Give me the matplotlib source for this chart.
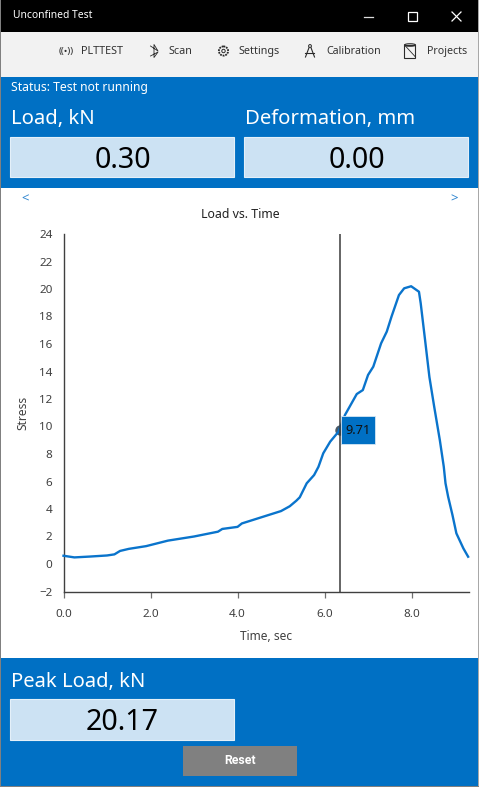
import matplotlib
matplotlib.use("Agg")
import matplotlib.pyplot as plt
from matplotlib.patches import Rectangle, Circle, Ellipse

plt.rcParams['font.family'] = ['Noto Sans', 'DejaVu Sans']

time_s = [0.0, 0.25, 0.6, 1.0, 1.17, 1.3, 1.5, 1.9, 2.4, 3.0, 3.55, 3.65, 4.0, 4.1, 4.6, 5.0, 5.2, 5.35,
          5.43, 5.59, 5.76, 5.86, 5.97, 6.13, 6.32, 6.47, 6.74, 6.88, 7.0, 7.12, 7.3, 7.43, 7.54, 7.71,
          7.83, 7.99, 8.17, 8.21, 8.31, 8.41, 8.52, 8.65, 8.74, 8.78, 8.84, 8.94, 9.03, 9.19, 9.3]
stress = [0.6, 0.48, 0.54, 0.62, 0.7, 0.95, 1.1, 1.3, 1.7, 2.0, 2.35, 2.55, 2.7, 2.95, 3.45, 3.85, 4.2, 4.6,
          4.85, 5.87, 6.47, 7.07, 8.05, 8.9, 9.62, 10.84, 12.36, 12.65, 13.75, 14.35, 16.05, 16.9, 18.0, 19.56,
          20.05, 20.2, 19.8, 18.96, 16.3, 13.6, 11.44, 9.0, 7.08, 5.87, 4.9, 3.56, 2.23, 1.14, 0.53]
x_ticks = [0, 2, 4, 6, 8]
y_ticks = list(range(-2, 26, 2))
cursor_t = 6.36
cursor_v = 9.71

W, H = 479, 787
BLUE = '#0070C4'
LIGHT = '#CCE2F3'
DARK = '#404040'

fig = plt.figure(figsize=(W / 100, H / 100), dpi=100, facecolor='white')

ui = fig.add_axes([0, 0, 1, 1], zorder=0)
ui.set_xlim(0, W); ui.set_ylim(H, 0); ui.axis('off')

def rect(x0, y0, x1, y1, color, **kw):
    ui.add_patch(Rectangle((x0, y0), x1 - x0, y1 - y0, facecolor=color, edgecolor=kw.pop('ec', 'none'),
                           lw=kw.pop('lw', 0), **kw))

rect(0, 0, W, 32, 'black')
rect(0, 32, W, 77, '#F2F2F2')
rect(0, 77, W, 188, BLUE)
rect(0, 658, W, 787, BLUE)
for box in [(10.5, 137, 234.5, 177), (244.5, 137, 468.5, 177), (10.5, 699, 234.5, 740)]:
    rect(box[0], box[1], box[2], box[3], LIGHT, ec='#E4F0F9', lw=0.8)
rect(183, 746, 297, 776, '#808080')
rect(0, 0, 1.2, H, '#808080', zorder=6)
rect(W - 1.2, 0, W, H, '#A8A8A8', zorder=6)
rect(0, H - 1, W, H, '#808080', zorder=6)

def label(x, y, s, size, color='black', ha='left', **kw):
    ui.text(x, y, s, fontsize=size, color=color, ha=ha, va='center', **kw)

label(13, 16, 'Unconfined Test', 7.4, 'white')
ui.plot([364, 373], [16.5, 16.5], color='#DDDDDD', lw=0.9)
ui.add_patch(Rectangle((408.5, 12), 8.5, 8.5, fill=False, ec='white', lw=0.9))
ui.plot([452, 461], [12, 21], color='white', lw=0.9)
ui.plot([452, 461], [21, 12], color='white', lw=0.9)

TB = '#2B2B2B'
TY = 51.5
label(81, TY, 'PLTTEST', 7.8, '#333333')
label(169, TY, 'Scan', 7.8, '#333333')
label(239, TY, 'Settings', 7.8, '#333333')
label(326, TY, 'Calibration', 7.7, '#333333')
label(427, TY, 'Projects', 7.7, '#333333')
# toolbar icons
label(66, TY, '((•))', 7, TB, ha='center')
ui.plot([150.5, 158, 154, 154, 158, 150.5], [46, 51, 44.5, 57.5, 52, 56], color=TB, lw=0.6)
ui.add_patch(Circle((223.5, 51), 4.6, fill=False, ec=TB, lw=1.3, ls=(0, (1, 0.5))))
ui.add_patch(Circle((223.5, 51), 1.7, fill=False, ec=TB, lw=0.7))
ui.plot([305.5, 310, 314.5], [57, 45, 57], color=TB, lw=0.8)
ui.plot([305.5, 314.5], [53, 53], color=TB, lw=0.8)
ui.add_patch(Circle((310, 46), 1.4, fc='#F2F2F2', ec=TB, lw=0.7, zorder=3))
ui.add_patch(Rectangle((404.5, 44.5), 11, 13, fill=False, ec=TB, lw=0.8))
ui.add_patch(Ellipse((410, 45), 11, 2.5, fill=False, ec=TB, lw=0.8))
ui.plot([404.5, 415.5], [45, 57], color=TB, lw=0.6)

label(11, 87.5, 'Status: Test not running', 8.75, 'white')
label(11, 119, 'Load, kN', 14.6, 'white')
label(245, 119, 'Deformation, mm', 14.6, 'white')
label(123, 160.5, '0.30', 20.6, 'black', ha='center')
label(357, 160.5, '0.00', 20.6, 'black', ha='center')
label(11, 682, 'Peak Load, kN', 14.5, 'white')
label(122, 722.5, '20.17', 20.6, 'black', ha='center')
ui.text(240, 761, 'Reset', fontsize=8.8, color='white', ha='center', va='center', family='Roboto', fontweight='bold')
label(25, 198.5, '<', 9.5, '#2F86D0', ha='center')
label(454, 198.5, '>', 9.5, '#2F86D0', ha='center')
label(240, 214, 'Load vs. Time', 8.9, '#222222', ha='center')

# plot area: pixel extents -> figure fractions
px0, px1, py_top, py_bot = 63.5, 469, 234, 591.5
ax = fig.add_axes([px0 / W, 1 - py_bot / H, (px1 - px0) / W, (py_bot - py_top) / H], zorder=1)
ax.patch.set_alpha(0)
xmax, ymin, ymax = 9.32, -2, 24
ax.set_xlim(0, xmax)
ax.set_ylim(ymin, ymax)
xu = (px1 - px0) / xmax      # pixels per x unit
yu = (py_bot - py_top) / (ymax - ymin)  # pixels per y unit
ax.plot(time_s, stress, color='#0A74CC', lw=1.7, solid_joinstyle='round', zorder=3, clip_on=False)
ax.axvline(cursor_t, color='#3A3A3A', lw=1.1, zorder=4)
ax.plot([cursor_t], [cursor_v], 'o', color='#4A5A68', ms=6.5, zorder=2)
ax.add_patch(Rectangle((cursor_t + 1 / xu, cursor_v - 14 / yu), 34 / xu, 28 / yu,
                       fc=BLUE, ec='#D5E6F4', lw=0.6, zorder=5))
ax.text(cursor_t + 18 / xu, cursor_v, f'{cursor_v:.2f}', fontsize=9.2, color='#111111', va='center', ha='center',
        zorder=6)
ax.set_xticks(x_ticks)
ax.set_xticklabels([f'{t:.1f}' for t in x_ticks])
ax.set_yticks(y_ticks)
for s in ['top', 'right']:
    ax.spines[s].set_visible(False)
for s in ['left', 'bottom']:
    ax.spines[s].set_color(DARK)
    ax.spines[s].set_linewidth(1.0)
ax.tick_params(axis='x', length=4.5, width=0.9, color='#707070', labelsize=8.4, labelcolor=DARK, pad=8)
ax.tick_params(axis='y', length=0, labelsize=8.4, labelcolor=DARK, pad=8)
ax.set_xlabel('Time, sec', fontsize=8.6, color=DARK, labelpad=7)
ax.set_ylabel('Stress', fontsize=8.6, color=DARK, labelpad=7)

fig.savefig('out.png', dpi=100, facecolor='white')
